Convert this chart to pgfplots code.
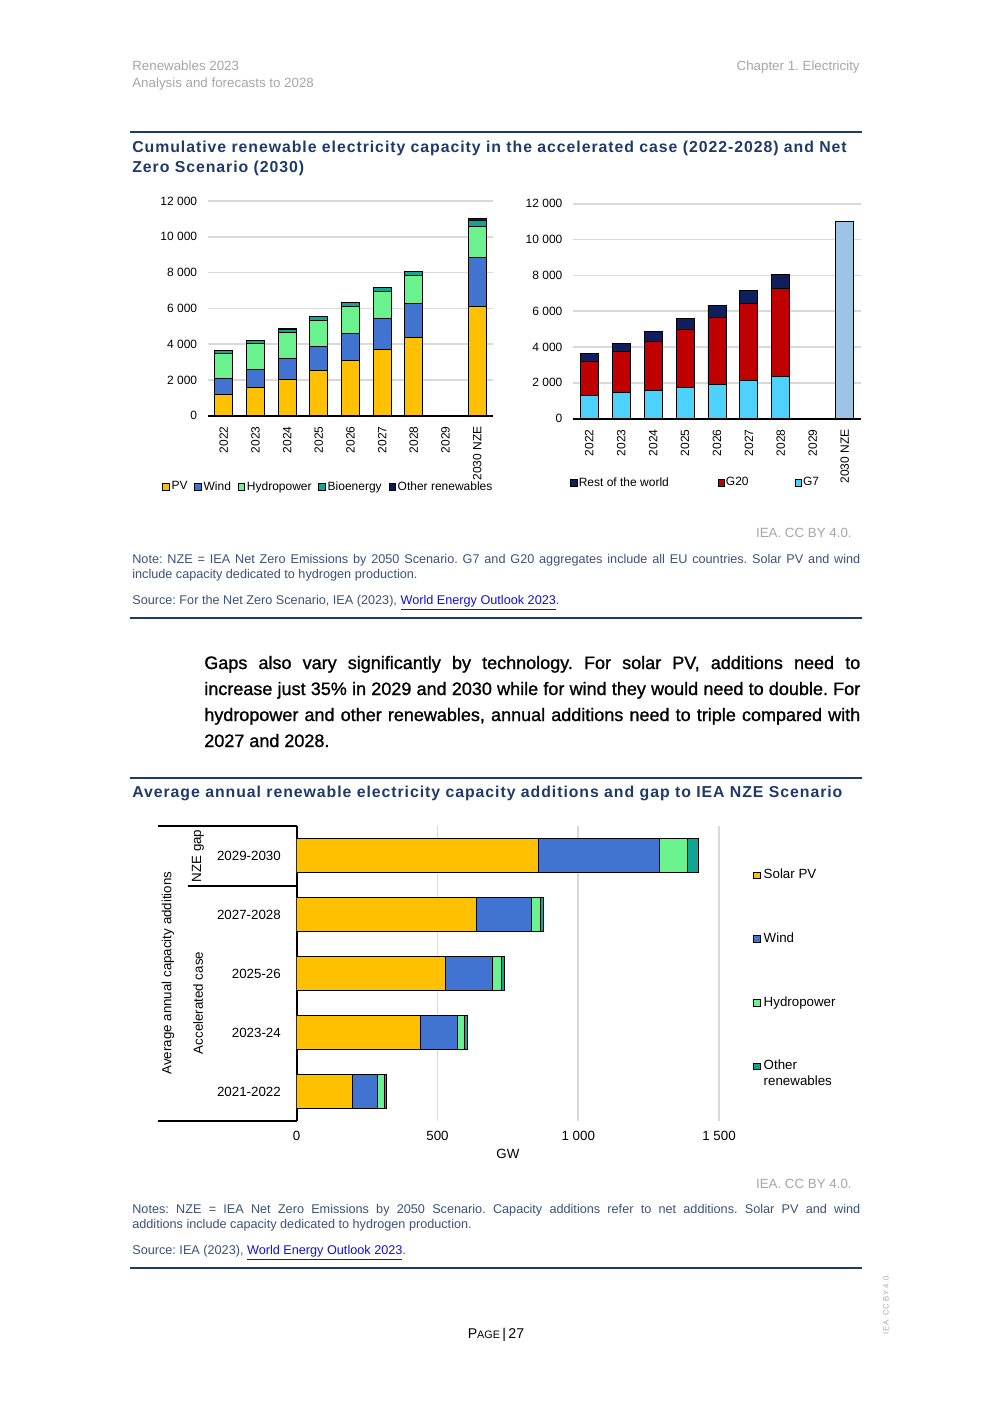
\documentclass[border=0pt]{standalone}
\usepackage{fontspec}
\setmainfont{Liberation Sans}
\newfontfamily\ttl[LetterSpace=6]{Liberation Sans}
\newfontfamily\bodyfont[FakeBold=1.1]{Liberation Sans}
\usepackage{pgfplots}
\pgfplotsset{compat=1.18}
\frenchspacing

\definecolor{pv}{HTML}{FFC000}
\definecolor{wind}{HTML}{4174D0}
\definecolor{hydro}{HTML}{6AF28E}
\definecolor{bio}{HTML}{12A593}
\definecolor{othr}{HTML}{0C1B55}
\definecolor{gseven}{HTML}{4DD2FF}
\definecolor{gtwenty}{HTML}{C00000}
\definecolor{rowc}{HTML}{0E1F5C}
\definecolor{nze}{HTML}{9DC3E6}
\definecolor{iea}{HTML}{1F3A68}
\definecolor{notec}{HTML}{3B5278}
\definecolor{hdr}{HTML}{A6A6A6}
\definecolor{gridc}{HTML}{D9D9D9}
\definecolor{link}{HTML}{1010D0}

\pgfplotsset{
  iea base/.style={
    scale only axis,
    scaled ticks=false,
    /pgf/number format/1000 sep={\ },
    /pgf/number format/assume math mode=true,
    major tick length=0pt,
    grid style={gridc, line width=1pt},
    legend style={draw=none, fill=none, inner sep=0pt, nodes={inner xsep=0.8pt, inner ysep=0.5pt}},
  },
  % must come after ybar/xbar, which set their own legend image
  sq legend/.style={
    legend image code/.code={\draw[##1, line width=0.4pt] (0pt,-1.9pt) rectangle (3.8pt,1.9pt);},
  },
}

\begin{document}
\begin{tikzpicture}
\begin{scope}[x=0.6pt,y=-0.6pt]
\fill[white] (0,0) rectangle (992,1403);
\coordinate (c1) at (208,415.7);
\coordinate (c2) at (573.3,418.7);
\coordinate (c3) at (296.7,1121);
% header
\node[anchor=base west, inner sep=0, text=hdr, font=\fontsize{8}{9}\selectfont] at (132,70.5) {Renewables 2023};
\node[anchor=base west, inner sep=0, text=hdr, font=\fontsize{8}{9}\selectfont] at (132,87.5) {Analysis and forecasts to 2028};
\node[anchor=base east, inner sep=0, text=hdr, font=\fontsize{8}{9}\selectfont] at (860,70.5) {Chapter 1. Electricity};
% first figure
\draw[iea, line width=0.9pt] (130,132) -- (862,132);
\node[anchor=base west, inner sep=0, text=iea, font=\ttl\bfseries\fontsize{9.5}{11}\selectfont] at (132,152.5) {Cumulative renewable electricity capacity in the accelerated case (2022-2028) and Net};
\node[anchor=base west, inner sep=0, text=iea, font=\ttl\bfseries\fontsize{9.5}{11}\selectfont] at (132,172.5) {Zero Scenario (2030)};
\node[anchor=base east, inner sep=0, text=hdr, font=\fontsize{8}{9}\selectfont] at (852,537.5) {IEA. CC BY 4.0.};
\node[anchor=base west, inner sep=0, text=notec, font=\fontsize{7.6}{9}\selectfont] at (132,563.5) {\makebox[436.8pt][s]{Note: NZE = IEA Net Zero Emissions by 2050 Scenario. G7 and G20 aggregates include all EU countries. Solar PV and wind}};
\node[anchor=base west, inner sep=0, text=notec, font=\fontsize{7.6}{9}\selectfont] at (132,578.5) {include capacity dedicated to hydrogen production.};
\node[anchor=base west, inner sep=0, text=notec, font=\fontsize{7.6}{9}\selectfont] at (132,604) {Source: For the Net Zero Scenario, IEA (2023), \textcolor{link}{\underline{World Energy Outlook 2023}}.};
\draw[iea, line width=1.5pt] (130,618) -- (862,618);
% body text
\begin{scope}[every node/.style={anchor=base west, inner sep=0, font=\bodyfont\fontsize{10.8}{13}\selectfont}]
\node at (204,669) {\makebox[393.6pt][s]{Gaps also vary significantly by technology. For solar PV, additions need to}};
\node at (204,695) {\makebox[393.6pt][s]{increase just 35\% in 2029 and 2030 while for wind they would need to double. For}};
\node at (204,721) {\makebox[393.6pt][s]{hydropower and other renewables, annual additions need to triple compared with}};
\node at (204,747) {2027 and 2028.};
\end{scope}
% second figure
\draw[iea, line width=0.9pt] (130,778) -- (862,778);
\node[anchor=base west, inner sep=0, text=iea, font=\ttl\bfseries\fontsize{9.5}{11}\selectfont] at (132,797.5) {Average annual renewable electricity capacity additions and gap to IEA NZE Scenario};
\node[anchor=base east, inner sep=0, text=hdr, font=\fontsize{8}{9}\selectfont] at (852,1188.5) {IEA. CC BY 4.0.};
\node[anchor=base west, inner sep=0, text=notec, font=\fontsize{7.6}{9}\selectfont] at (132,1213.5) {\makebox[436.8pt][s]{Notes: NZE = IEA Net Zero Emissions by 2050 Scenario. Capacity additions refer to net additions. Solar PV and wind}};
\node[anchor=base west, inner sep=0, text=notec, font=\fontsize{7.6}{9}\selectfont] at (132,1228.5) {additions include capacity dedicated to hydrogen production.};
\node[anchor=base west, inner sep=0, text=notec, font=\fontsize{7.6}{9}\selectfont] at (132,1254) {Source: IEA (2023), \textcolor{link}{\underline{World Energy Outlook 2023}}.};
\draw[iea, line width=1.5pt] (130,1268) -- (862,1268);
% footer
\node[anchor=base, inner sep=0, font=\fontsize{8.5}{10}\selectfont] at (496,1338) {P{\fontsize{6.5}{8}\selectfont AGE}\,|\,27};
\node[rotate=90, inner sep=0, text=hdr, font=\ttl\fontsize{4.6}{5}\selectfont] at (886,1304) {IEA. CC BY 4.0.};
% group labels of the bar chart
\draw[black, line width=1.1pt] (158,826) -- (297,826);
\draw[black, line width=1.1pt] (158,1121) -- (297,1121);
\draw[black, line width=1.1pt] (188,885.7) -- (297,885.7);
\node[rotate=90, inner sep=0, font=\fontsize{8}{9}\selectfont] at (198,856) {NZE gap};
\node[rotate=90, inner sep=0, font=\fontsize{8}{9}\selectfont] at (198,1003) {Accelerated case};
\node[rotate=90, inner sep=0, font=\fontsize{8}{9}\selectfont] at (168,973) {Average annual capacity additions};
\end{scope}

% ---------- cumulative capacity by technology
\begin{axis}[iea base,
  at={(c1)}, anchor=south west,
  width=171pt, height=128.8pt,
  xmin=-0.5, xmax=8.5, ymin=0, ymax=12000,
  ybar stacked, bar width=10.8pt, sq legend,
  xtick={0,...,8},
  xticklabels={2022,2023,2024,2025,2026,2027,2028,2029,2030 NZE},
  xticklabel style={rotate=90, anchor=east, font=\fontsize{7.2}{8}\selectfont},
  xticklabel shift=3pt,
  ytick={0,2000,...,12000},
  yticklabel style={font=\fontsize{7.2}{8}\selectfont},
  yticklabel shift=3pt,
  ymajorgrids,
  axis x line*=bottom, axis y line*=left,
  x axis line style={-, line width=1.2pt},
  y axis line style={draw=none},
  legend columns=5,
  legend style={at={(-0.161,-0.332)}, anchor=west, font=\fontsize{7.2}{8}\selectfont,
    /tikz/every odd column/.append style={column sep=0.5pt},
    /tikz/every even column/.append style={column sep=3.3pt}},
  every axis plot/.append style={draw=black, line width=0.5pt},
]
\addplot[fill=pv] coordinates {(0,1190) (1,1580) (2,2030) (3,2530) (4,3090) (5,3710) (6,4380) (8,6110)};
\addlegendentry{PV}
\addplot[fill=wind] coordinates {(0,900) (1,1005) (2,1170) (3,1340) (4,1510) (5,1730) (6,1900) (8,2740)};
\addlegendentry{Wind}
\addplot[fill=hydro] coordinates {(0,1395) (1,1455) (2,1450) (3,1450) (4,1490) (5,1510) (6,1560) (8,1730)};
\addlegendentry{Hydropower}
\addplot[fill=bio] coordinates {(0,170) (1,165) (2,150) (3,220) (4,240) (5,200) (6,220) (8,320)};
\addlegendentry{Bioenergy}
\addplot[fill=othr] coordinates {(0,15) (1,15) (2,90) (3,20) (4,20) (5,20) (6,20) (8,130)};
\addlegendentry{Other renewables}
\end{axis}

% ---------- cumulative capacity by country group
\begin{axis}[iea base,
  at={(c2)}, anchor=south west,
  width=172.4pt, height=129pt,
  xmin=-0.5, xmax=8.5, ymin=0, ymax=12000,
  ybar stacked, bar width=10.8pt, sq legend,
  xtick={0,...,8},
  xticklabels={2022,2023,2024,2025,2026,2027,2028,2029,2030 NZE},
  xticklabel style={rotate=90, anchor=east, font=\fontsize{7.2}{8}\selectfont},
  xticklabel shift=3pt,
  ytick={0,2000,...,12000},
  yticklabel style={font=\fontsize{7.2}{8}\selectfont},
  yticklabel shift=3pt,
  ymajorgrids,
  axis x line*=bottom, axis y line*=left,
  x axis line style={-, line width=1.2pt},
  y axis line style={draw=none},
  legend columns=3, reverse legend,
  legend style={at={(-0.011,-0.299)}, anchor=west, font=\fontsize{7.2}{8}\selectfont},
  every axis plot/.append style={draw=black, line width=0.5pt},
]
\addplot[fill=gseven] coordinates {(0,1280) (1,1470) (2,1580) (3,1730) (4,1920) (5,2120) (6,2340) (8,0)};
\addlegendentry{\makebox[38pt][l]{G7}}
\addplot[fill=gtwenty] coordinates {(0,1900) (1,2270) (2,2720) (3,3260) (4,3720) (5,4300) (6,4910) (8,0)};
\addlegendentry{\makebox[40.5pt][l]{G20}}
\addplot[fill=rowc] coordinates {(0,470) (1,465) (2,580) (3,580) (4,690) (5,760) (6,800) (8,0)};
\addlegendentry{\makebox[82.5pt][l]{Rest of the world}}
\addplot[fill=nze, forget plot] coordinates {(0,0) (1,0) (2,0) (3,0) (4,0) (5,0) (6,0) (8,11010)};
\end{axis}

% ---------- average annual additions
\begin{axis}[iea base,
  at={(c3)}, anchor=south west,
  width=253.4pt, height=177pt,
  xmin=0, xmax=1500, ymin=-0.5, ymax=4.5,
  xbar stacked, bar width=20.4pt, sq legend,
  ytick={0,...,4},
  yticklabels={2021-2022,2023-24,2025-26,2027-2028,2029-2030},
  xtick={0,500,1000,1500},
  ticklabel style={font=\fontsize{8}{9}\selectfont},
  xticklabel shift=2.5pt,
  yticklabel shift=6pt,
  xmajorgrids,
  xlabel={GW},
  every axis x label/.style={at={(axis description cs:0.5,-0.112)}, anchor=center, font=\fontsize{8}{9}\selectfont},
  axis x line*=bottom, axis y line*=left,
  x axis line style={draw=none},
  y axis line style={-, line width=1.1pt},
  legend cell align=left,
  legend style={at={(1.0805,0.858)}, anchor=north west, font=\fontsize{8}{9.5}\selectfont,
    row sep=30pt,
    /tikz/every odd column/.append style={column sep=1.2pt}},
  every axis plot/.append style={draw=black, line width=0.5pt},
]
\addplot[fill=pv] coordinates {(199,0) (438,1) (527,2) (640,3) (860,4)};
\addlegendentry{Solar PV}
\addplot[fill=wind] coordinates {(86,0) (132,1) (168,2) (194,3) (429,4)};
\addlegendentry{Wind}
\addplot[fill=hydro] coordinates {(28,0) (24,1) (32,2) (32,3) (99,4)};
\addlegendentry{Hydropower}
\addplot[fill=bio] coordinates {(7,0) (12,1) (12,2) (12,3) (37,4)};
\addlegendentry{\vphantom{Ag}\smash{\begin{tabular}[t]{@{}l@{}}Other\\renewables\end{tabular}}}
\end{axis}
\end{tikzpicture}
\end{document}
